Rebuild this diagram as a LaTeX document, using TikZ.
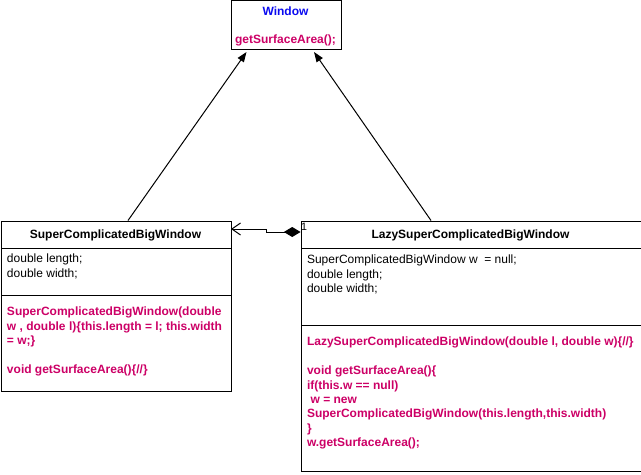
\documentclass[tikz,border=0pt]{standalone}
\usepackage{fontspec}
\setmainfont{Liberation Sans}
\usepackage{tikz}
\usetikzlibrary{arrows.meta}
\usetikzlibrary{positioning}
\definecolor{methodpink}{RGB}{204,0,102}
\definecolor{titleblue}{RGB}{10,10,240}

\begin{document}
\begin{tikzpicture}[
    x=0.75pt, y=-0.75pt,
    line width=0.75pt,
    font=\fontsize{9}{10.8}\selectfont
]
\tikzset{
    classbox/.style = {rectangle, draw=black, anchor=north west, inner sep=0pt},
    headtext/.style = {anchor=base, inner sep=0pt, font=\fontsize{9}{10.8}\selectfont\bfseries},
    fieldtext/.style = {anchor=base west, align=left, inner sep=0pt},
    methodtext/.style = {anchor=base west, align=left, inner sep=0pt, text=methodpink, font=\fontsize{9}{10.8}\selectfont\bfseries},
    inherit/.style = {-{Triangle[length=7.5pt,width=5.5pt]}},
    compose/.style = {{Diamond[length=12.5pt,width=7.5pt]}-{Straight Barb[length=6.5pt,width=9pt]}}
}
\useasboundingbox (0,0) rectangle (641,474);

\node[classbox, minimum width=82.5pt, minimum height=36.4pt] at (230.5,0.5) (win) {};
\node[headtext, text=titleblue] at (285.5,16) (wintitle) {Window};
\node[headtext, text=methodpink] at (285.5,44) (winmethod) {getSurfaceArea();};

\node[classbox, minimum width=172.5pt, minimum height=20.25pt] at (0.5,220.5) (scbw) {};
\node[classbox, minimum width=172.5pt, minimum height=35.25pt] at (0.5,247.5) (scbwfields) {};
\node[classbox, minimum width=172.5pt, minimum height=72pt] at (0.5,294.5) (scbwmethods) {};
\node[headtext] at (115.5,238.3) (scbwname) {SuperComplicatedBigWindow};
\node[fieldtext] at (6.5,277.1) (scbwattr) {double length;\\double width;};
\node[methodtext] at (6.5,373.5) (scbwops) {SuperComplicatedBigWindow(double\\
w , double l)\{this.length = l; this.width\\
= w;\}\\[10.8pt]
void getSurfaceArea()\{//\}};

\node[classbox, minimum width=255pt, minimum height=20.25pt] at (300.5,220.5) (lazy) {};
\node[classbox, minimum width=255pt, minimum height=57.75pt] at (300.5,247.5) (lazyfields) {};
\node[classbox, minimum width=255pt, minimum height=109.5pt] at (300.5,324.5) (lazymethods) {};
\node[headtext] at (470.5,238.3) (lazyname) {LazySuperComplicatedBigWindow};
\node[fieldtext] at (306.5,292.5) (lazyattr) {SuperComplicatedBigWindow w~~= null;\\double length;\\double width;};
\node[methodtext] at (306.5,446.6) (lazyops) {LazySuperComplicatedBigWindow(double l, double w)\{//\}\\[10.8pt]
void getSurfaceArea()\{\\
if(this.w == null)\\
\hspace{0.3em}w = new\\
SuperComplicatedBigWindow(this.length,this.width)\\
\}\\
w.getSurfaceArea();};

\coordinate (scbwup) at (128,220.5);
\coordinate (lazyup) at (431,220.5);
\coordinate (winleft) at (246.5,52);
\coordinate (winright) at (314,52);
\draw[inherit] (scbwup) -- (winleft);
\draw[inherit] (lazyup) -- (winright);

\coordinate (lazyleft) at (300.5,232);
\coordinate (bendlow) at (266.5,232);
\coordinate (bendhigh) at (266.5,229);
\coordinate (scbwright) at (231,229);
\draw[compose] (lazyleft) -- (bendlow) -- (bendhigh) -- (scbwright);
\node[anchor=base west, inner sep=0pt, font=\fontsize{8}{9}\selectfont] at (300.5,230) (mult) {1};
\end{tikzpicture}
\end{document}
